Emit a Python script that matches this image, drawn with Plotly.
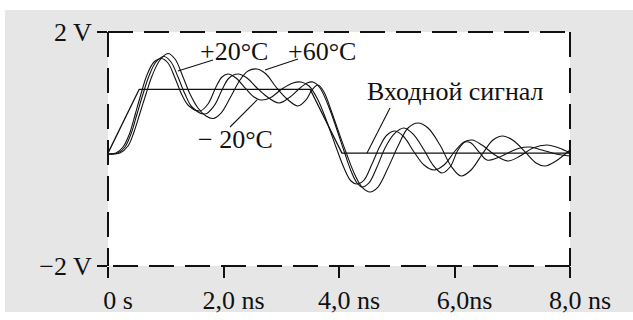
import plotly.graph_objects as go

# ---- data (time in ns, voltage in V) ----
t_input = [0.0, 0.54, 3.50, 4.05, 8.0]
v_input = [-0.07, 1.02, 1.02, -0.07, -0.07]

t_m20 = [0.000, 0.139, 0.260, 0.364, 0.468, 0.571, 0.675, 0.797, 0.926, 1.039, 1.160, 1.281, 1.403, 1.593,
         1.732, 1.870, 1.974, 2.078, 2.216, 2.390, 2.528, 2.649, 2.805, 3.013, 3.203, 3.342, 3.481, 3.636,
         3.792, 3.948, 4.087, 4.208, 4.312, 4.433, 4.571, 4.710, 4.831, 4.970, 5.126, 5.299, 5.472, 5.645,
         5.818, 6.009, 6.165, 6.303, 6.476, 6.701, 6.926, 7.134, 7.359, 7.602, 7.810, 8.000]
v_m20 = [-0.085, -0.068, 0.034, 0.239, 0.581, 0.940, 1.265, 1.487, 1.547, 1.470, 1.214, 0.923, 0.735, 0.650,
         0.769, 1.060, 1.231, 1.282, 1.214, 1.026, 0.889, 0.838, 0.872, 1.026, 1.128, 1.145, 1.077, 0.838,
         0.462, 0.034, -0.325, -0.547, -0.598, -0.530, -0.256, 0.051, 0.239, 0.308, 0.205, -0.051, -0.274, -0.359,
         -0.274, -0.034, 0.120, 0.154, 0.068, -0.103, -0.205, -0.120, 0.017, 0.068, 0.017, -0.068]

t_p20 = [0.000, 0.173, 0.294, 0.398, 0.502, 0.606, 0.710, 0.831, 0.970, 1.091, 1.212, 1.333, 1.455, 1.680,
         1.835, 1.974, 2.095, 2.251, 2.407, 2.563, 2.736, 2.961, 3.152, 3.325, 3.446, 3.550, 3.671, 3.810,
         3.948, 4.087, 4.208, 4.312, 4.398, 4.519, 4.658, 4.797, 4.952, 5.126, 5.299, 5.472, 5.628, 5.784,
         5.922, 6.061, 6.182, 6.286, 6.424, 6.563, 6.736, 6.961, 7.134, 7.307, 7.515, 7.758, 8.000]
v_p20 = [-0.085, -0.068, 0.034, 0.256, 0.598, 0.940, 1.248, 1.487, 1.581, 1.487, 1.231, 0.940, 0.718, 0.598,
         0.735, 1.009, 1.214, 1.282, 1.214, 1.060, 0.906, 0.786, 0.889, 1.043, 1.128, 1.145, 1.043, 0.752,
         0.376, -0.034, -0.376, -0.581, -0.650, -0.581, -0.308, 0.017, 0.256, 0.359, 0.239, -0.017, -0.274, -0.410,
         -0.308, -0.017, 0.120, 0.103, -0.051, -0.188, -0.154, -0.051, 0.017, 0.034, -0.017, -0.085, -0.120]

t_p60 = [0.000, 0.208, 0.346, 0.450, 0.554, 0.658, 0.762, 0.900, 1.039, 1.160, 1.299, 1.420, 1.558, 1.697,
         1.818, 1.957, 2.113, 2.286, 2.424, 2.580, 2.736, 2.909, 3.100, 3.290, 3.429, 3.532, 3.636, 3.740,
         3.861, 4.000, 4.139, 4.277, 4.398, 4.537, 4.675, 4.848, 5.022, 5.195, 5.368, 5.541, 5.749, 5.939,
         6.113, 6.286, 6.494, 6.667, 6.840, 7.030, 7.238, 7.411, 7.567, 7.758, 8.000]
v_p60 = [-0.085, -0.068, 0.051, 0.291, 0.615, 0.940, 1.248, 1.521, 1.632, 1.538, 1.231, 0.940, 0.701, 0.564,
         0.521, 0.615, 0.872, 1.179, 1.333, 1.368, 1.282, 1.060, 0.855, 0.735, 0.838, 1.009, 1.094, 0.974,
         0.667, 0.274, -0.103, -0.444, -0.650, -0.735, -0.650, -0.325, 0.051, 0.359, 0.444, 0.359, 0.068, -0.291,
         -0.462, -0.359, -0.068, 0.154, 0.222, 0.137, -0.068, -0.239, -0.291, -0.205, -0.017]

x_tick_vals = [0, 2, 4, 6, 8]
x_tick_text = ["0 s", "2,0 ns", "4,0 ns", "6,0ns", "8,0 ns"]
y_tick_vals = [-2, 2]
y_tick_text = ["\u22122 V", "2 V"]

# labels: text, text position (t, V), leader line from (t, V) to (t, V)
label_text = ["+20\u00b0C", "+60\u00b0C", "\u2212 20\u00b0C", "\u0412\u0445\u043e\u0434\u043d\u043e\u0439 \u0441\u0438\u0433\u043d\u0430\u043b"]
label_t = [2.182, 3.706, 2.216, 6.009]
label_v = [1.675, 1.675, 0.154, 0.991]
lead_t0 = [1.818, 3.290, 2.113, 4.883]
lead_v0 = [1.521, 1.538, 0.376, 0.701]
lead_t1 = [1.212, 2.719, 2.580, 4.485]
lead_v1 = [1.333, 1.350, 0.838, -0.068]

FONT = "Liberation Serif, Times New Roman, DejaVu Serif, serif"
FS = 26
INK = "#111111"

fig = go.Figure()
fig.add_trace(go.Scatter(x=t_input, y=v_input, mode="lines",
                         line=dict(color=INK, width=1.3), hoverinfo="skip"))
for tt, vv in [(t_m20, v_m20), (t_p20, v_p20), (t_p60, v_p60)]:
    fig.add_trace(go.Scatter(x=tt, y=vv, mode="lines",
                             line=dict(color=INK, width=1.1, shape="spline", smoothing=1.0),
                             hoverinfo="skip"))

shapes = []
# gray panel behind everything
shapes.append(dict(type="rect", xref="paper", yref="paper", x0=-0.2229, x1=1.14, y0=-0.1966, y1=1.094,
                   fillcolor="#e6e6e6", line=dict(width=0), layer="below"))
shapes.append(dict(type="rect", xref="paper", yref="paper", x0=0, x1=1, y0=0, y1=1,
                   fillcolor="white", line=dict(width=0), layer="below"))
# dashed frame
dash = "25px,11px"
for (x0, y0, x1, y1) in [(0, 1, 1, 1), (1, 0, 0, 0), (0, 1, 0, 0), (1, 1, 1, 0)]:
    shapes.append(dict(type="line", xref="paper", yref="paper", x0=x0, y0=y0, x1=x1, y1=y1,
                       line=dict(color=INK, width=2, dash=dash), layer="above"))
# leader lines
for a, b, c, d in zip(lead_t0, lead_v0, lead_t1, lead_v1):
    shapes.append(dict(type="line", xref="x", yref="y", x0=a, y0=b, x1=c, y1=d,
                       line=dict(color=INK, width=1.1), layer="above"))

annotations = []
for txt, tx, vy in zip(label_text, label_t, label_v):
    annotations.append(dict(x=tx, y=vy, xref="x", yref="y", text=txt, showarrow=False,
                            font=dict(family=FONT, size=FS, color=INK),
                            xanchor="center", yanchor="middle", bgcolor="rgba(0,0,0,0)"))

fig.update_layout(
    width=633, height=320,
    margin=dict(l=108, r=63, t=32, b=54, autoexpand=False),
    paper_bgcolor="white", plot_bgcolor="rgba(0,0,0,0)",
    showlegend=False,
    shapes=shapes, annotations=annotations,
    font=dict(family=FONT, size=FS, color=INK),
)
fig.update_xaxes(range=[0, 8], showgrid=False, zeroline=False, showline=False, automargin=False,
                 tickmode="array", tickvals=x_tick_vals, ticktext=x_tick_text,
                 ticks="outside", ticklen=11, tickwidth=2, tickcolor=INK,
                 ticklabelshift=10, tickfont=dict(family=FONT, size=FS, color=INK))
fig.update_yaxes(range=[-2, 2], showgrid=False, zeroline=False, showline=False, automargin=False,
                 tickmode="array", tickvals=y_tick_vals, ticktext=y_tick_text,
                 ticks="outside", ticklen=10, tickwidth=2, tickcolor=INK,
                 tickfont=dict(family=FONT, size=FS, color=INK))

fig.write_html("out.html", config={"displayModeBar": False},
               post_script="document.body.style.margin='0';document.body.style.overflow='hidden';")
